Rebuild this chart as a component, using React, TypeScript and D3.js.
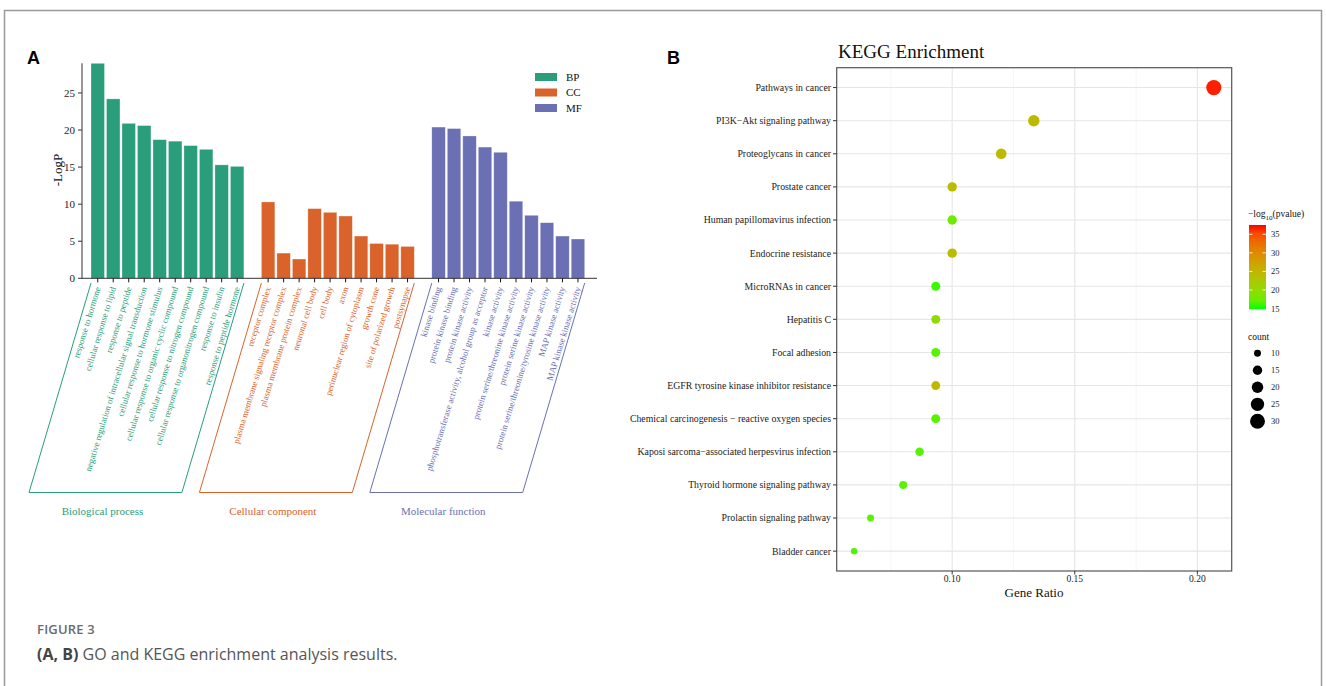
import * as d3 from "d3";

// ---- panel A data (GO) ----
const bpTerms = [
  "response to hormone",
  "cellular response to lipid",
  "response to peptide",
  "negative regulation of intracellular signal transduction",
  "cellular response to hormone stimulus",
  "cellular response to organic cyclic compound",
  "cellular response to nitrogen compound",
  "cellular response to organonitrogen compound",
  "response to insulin",
  "response to peptide hormone",
];
const bpValues = [29.0, 24.2, 20.9, 20.6, 18.7, 18.5, 17.9, 17.4, 15.3, 15.1];

const ccTerms = [
  "receptor complex",
  "plasma membrane signaling receptor complex",
  "plasma membrane protein complex",
  "neuronal cell body",
  "cell body",
  "axon",
  "perinuclear region of cytoplasm",
  "growth cone",
  "site of polarized growth",
  "postsynapse",
];
const ccValues = [10.3, 3.4, 2.6, 9.4, 8.9, 8.4, 5.7, 4.7, 4.6, 4.3];

const mfTerms = [
  "kinase binding",
  "protein kinase binding",
  "protein kinase activity",
  "phosphotransferase activity, alcohol group as acceptor",
  "kinase activity",
  "protein serine/threonine kinase activity",
  "protein serine kinase activity",
  "protein serine/threonine/tyrosine kinase activity",
  "MAP kinase activity",
  "MAP kinase kinase activity",
];
const mfValues = [20.4, 20.2, 19.2, 17.7, 17.0, 10.4, 8.5, 7.5, 5.7, 5.3];

const groupKeys = ["BP", "CC", "MF"];
const groupNames = ["Biological process", "Cellular component", "Molecular function"];
const groupColors = ["#2a9d7a", "#d9632a", "#6a70b3"];
const yTicksA = [0, 5, 10, 15, 20, 25];

// ---- panel B data (KEGG) ----
const pathways = [
  "Pathways in cancer",
  "PI3K\u2212Akt signaling pathway",
  "Proteoglycans in cancer",
  "Prostate cancer",
  "Human papillomavirus infection",
  "Endocrine resistance",
  "MicroRNAs in cancer",
  "Hepatitis C",
  "Focal adhesion",
  "EGFR tyrosine kinase inhibitor resistance",
  "Chemical carcinogenesis \u2212 reactive oxygen species",
  "Kaposi sarcoma\u2212associated herpesvirus infection",
  "Thyroid hormone signaling pathway",
  "Prolactin signaling pathway",
  "Bladder cancer",
];
const geneCounts = [31, 20, 18, 15, 15, 15, 14, 14, 14, 14, 14, 13, 12, 10, 9];
const geneRatio = [0.2067, 0.1333, 0.12, 0.1, 0.1, 0.1, 0.0933, 0.0933, 0.0933, 0.0933, 0.0933, 0.0867, 0.08, 0.0667, 0.06];
const negLogP = [37, 24.5, 24.5, 24, 17.5, 24, 15.5, 20, 16.5, 24.5, 16.5, 16.5, 16.5, 16.5, 16];
const ratioTicks = [0.1, 0.15, 0.2];
const ratioMinor = [0.075, 0.125, 0.175];
const colorTicks = [15, 20, 25, 30, 35];
const sizeTicks = [10, 15, 20, 25, 30];

const serif = "'Liberation Serif', 'Times New Roman', serif";
const sans = "'Open Sans', 'Liberation Sans', sans-serif";

export default function App() {
  // ---------- panel A scales ----------
  const groups = [
    { terms: bpTerms, values: bpValues },
    { terms: ccTerms, values: ccValues },
    { terms: mfTerms, values: mfValues },
  ];
  const slots: { key: string; g: number; term: string; v: number }[] = [];
  groups.forEach((gr, gi) => {
    gr.terms.forEach((t, i) => slots.push({ key: `${gi}-${i}`, g: gi, term: t, v: gr.values[i] }));
  });
  const domainA: string[] = [];
  groups.forEach((gr, gi) => {
    gr.terms.forEach((_, i) => domainA.push(`${gi}-${i}`));
    if (gi < groups.length - 1) domainA.push(`gap${gi}`);
  });
  const xA = d3.scaleBand<string>().domain(domainA).range([91, 584.7]).paddingInner(0.13).paddingOuter(0);
  const yA = d3.scaleLinear().domain([0, 29]).range([278.3, 63.3]);
  const axisY0 = 82;
  const labelTop = 287;
  const angle = -73;
  const slant = 62; // horizontal shift of bracket bottom
  const bracketBottom = 492.5;

  // ---------- panel B scales ----------
  const xB = d3.scaleLinear().domain([0.0529, 0.2140]).range([836.7, 1231.7]);
  const yB = d3.scalePoint<string>().domain(pathways).range([67.7, 571]).padding(0.6);
  const colorB = d3
    .scaleLinear<string>()
    .domain([14.8, 37.5])
    .range(["#00ff00", "#ff0000"])
    .interpolate(d3.interpolateLab);
  const sizeB = d3.scaleSqrt().domain([9, 31]).range([3.2, 7.6]);
  const cbTop = 225;
  const cbBottom = 309.3;
  const cbY = d3.scaleLinear().domain([14.8, 37.5]).range([cbBottom, cbTop]);
  const cbStops = d3.range(0, 1.0001, 0.1);

  return (
    <svg
      width={1326}
      height={686}
      style={{ position: "absolute", left: 0, top: 0, background: "#fff" }}
    >
      <defs>
        <linearGradient id="cb" x1="0" y1="1" x2="0" y2="0">
          {cbStops.map((t) => (
            <stop key={t} offset={t} stopColor={colorB(14.8 + t * (37.5 - 14.8))} />
          ))}
        </linearGradient>
      </defs>
      {/* card border */}
      <rect x={4.5} y={10.5} width={1317} height={700} fill="none" stroke="#9a9a9a" strokeWidth={1.5} />

      {/* ================= Panel A ================= */}
      <text x={27} y={64} fontFamily="'Liberation Sans', Arial, sans-serif" fontWeight="bold" fontSize={18}>A</text>

      {/* bars */}
      {slots.map((s) => (
        <rect
          key={s.key}
          x={xA(s.key)}
          y={yA(s.v)}
          width={xA.bandwidth()}
          height={yA(0) - yA(s.v)}
          fill={groupColors[s.g]}
          stroke="#ffffff"
          strokeOpacity={0.5}
          strokeWidth={0.6}
        />
      ))}

      {/* y axis */}
      <line x1={axisY0} x2={axisY0} y1={yA(29)} y2={yA(0)} stroke="#333" strokeWidth={1} />
      {yTicksA.map((t) => (
        <g key={t}>
          <line x1={axisY0 - 4} x2={axisY0} y1={yA(t)} y2={yA(t)} stroke="#333" />
          <text x={axisY0 - 7} y={yA(t)} dy="0.35em" textAnchor="end" fontFamily={serif} fontSize={11} fill="#222">
            {t}
          </text>
        </g>
      ))}
      <text
        transform={`translate(62,${170}) rotate(-90)`}
        textAnchor="middle"
        fontFamily={serif}
        fontSize={13}
        fill="#111"
      >
        -LogP
      </text>

      {/* x axis */}
      <line x1={axisY0} x2={597} y1={yA(0)} y2={yA(0)} stroke="#333" strokeWidth={1} />
      {slots.map((s) => {
        const cx = (xA(s.key) as number) + xA.bandwidth() / 2;
        return <line key={"t" + s.key} x1={cx} x2={cx} y1={yA(0)} y2={yA(0) + 4} stroke="#111" />;
      })}

      {/* rotated term labels */}
      {slots.map((s) => {
        const cx = (xA(s.key) as number) + xA.bandwidth() / 2;
        return (
          <text
            key={"l" + s.key}
            transform={`translate(${cx},${labelTop}) rotate(${angle})`}
            textAnchor="end"
            dominantBaseline="central"
            fontFamily={serif}
            fontSize={8.9}
            fill={groupColors[s.g]}
          >
            {s.term}
          </text>
        );
      })}

      {/* brackets and group names */}
      {groups.map((gr, gi) => {
        const first = xA(`${gi}-0`) as number;
        const last = (xA(`${gi}-${gr.terms.length - 1}`) as number) + xA.bandwidth();
        const top = 283;
        const pts = [
          [first, top],
          [first - slant, bracketBottom],
          [last - slant, bracketBottom],
          [last, top],
        ];
        const mid = (first + last) / 2 - slant - 3;
        return (
          <g key={"b" + gi}>
            <path
              d={d3.line()(pts as [number, number][]) as string}
              fill="none"
              stroke={groupColors[gi]}
              strokeWidth={1}
            />
            <text x={mid} y={515} textAnchor="middle" fontFamily={serif} fontSize={11} fill={groupColors[gi]}>
              {groupNames[gi]}
            </text>
          </g>
        );
      })}

      {/* legend A */}
      {groupKeys.map((k, i) => (
        <g key={k} transform={`translate(535,${73 + i * 15.5})`}>
          <rect x={0} y={0} width={22} height={8} fill={groupColors[i]} />
          <text x={31} y={4} dy="0.35em" fontFamily={serif} fontSize={11} fill="#111">
            {k}
          </text>
        </g>
      ))}

      {/* ================= Panel B ================= */}
      <text x={667} y={64} fontFamily="'Liberation Sans', Arial, sans-serif" fontWeight="bold" fontSize={18}>B</text>
      <text x={838} y={58} fontFamily={serif} fontSize={19} fill="#111">KEGG Enrichment</text>

      {/* grid */}
      {ratioMinor.map((t) => (
        <line key={"m" + t} x1={xB(t)} x2={xB(t)} y1={67.7} y2={571} stroke="#f0f0f0" strokeWidth={0.6} />
      ))}
      {ratioTicks.map((t) => (
        <line key={"g" + t} x1={xB(t)} x2={xB(t)} y1={67.7} y2={571} stroke="#e6e6e6" strokeWidth={1.1} />
      ))}
      {pathways.map((p) => (
        <line key={"h" + p} x1={836.7} x2={1231.7} y1={yB(p)} y2={yB(p)} stroke="#e6e6e6" strokeWidth={1.1} />
      ))}

      {/* panel border */}
      <rect x={836.7} y={67.7} width={1231.7 - 836.7} height={571 - 67.7} fill="none" stroke="#555" strokeWidth={1.2} />

      {/* y labels */}
      {pathways.map((p) => (
        <g key={"yl" + p}>
          <line x1={833} x2={836.7} y1={yB(p)} y2={yB(p)} stroke="#333" />
          <text x={831} y={yB(p)} dy="0.35em" textAnchor="end" fontFamily={serif} fontSize={9.8} fill="#222">
            {p}
          </text>
        </g>
      ))}

      {/* x ticks */}
      {ratioTicks.map((t) => (
        <g key={"xt" + t}>
          <line x1={xB(t)} x2={xB(t)} y1={571} y2={574.5} stroke="#333" />
          <text x={xB(t)} y={582} textAnchor="middle" fontFamily={serif} fontSize={9.5} fill="#222">
            {t.toFixed(2)}
          </text>
        </g>
      ))}
      <text x={1034} y={597} textAnchor="middle" fontFamily={serif} fontSize={13} fill="#111">
        Gene Ratio
      </text>

      {/* points */}
      {pathways.map((p, i) => (
        <circle key={"pt" + p} cx={xB(geneRatio[i])} cy={yB(p)} r={sizeB(geneCounts[i])} fill={colorB(negLogP[i])} />
      ))}

      {/* colour legend */}
      <text x={1248} y={217} fontFamily={serif} fontSize={9.5} fill="#111">
        {"\u2212log"}
        <tspan fontSize={7} dy={3}>10</tspan>
        <tspan dy={-3}>(pvalue)</tspan>
      </text>
      <rect x={1249} y={cbTop} width={17} height={cbBottom - cbTop} fill="url(#cb)" />
      {colorTicks.map((t) => (
        <g key={"ct" + t}>
          {t > 15 && (
            <>
              <line x1={1249} x2={1252.5} y1={cbY(t)} y2={cbY(t)} stroke="#fff" strokeWidth={0.8} />
              <line x1={1262.5} x2={1266} y1={cbY(t)} y2={cbY(t)} stroke="#fff" strokeWidth={0.8} />
            </>
          )}
          <text x={1271} y={cbY(t)} dy="0.35em" fontFamily={serif} fontSize={8.5} fill="#222">
            {t}
          </text>
        </g>
      ))}

      {/* size legend */}
      <text x={1248} y={340} fontFamily={serif} fontSize={9.5} fill="#111">count</text>
      {sizeTicks.map((t, i) => (
        <g key={"st" + t}>
          <circle cx={1257.5} cy={353.3 + i * 17} r={sizeB(t)} fill="#000" />
          <text x={1271} y={353.3 + i * 17} dy="0.35em" fontFamily={serif} fontSize={8.5} fill="#222">
            {t}
          </text>
        </g>
      ))}

      {/* caption */}
      <text x={37} y={634} fontFamily={sans} fontWeight={600} fontSize={13} fill="#6b6b6b" letterSpacing={0.2}>
        FIGURE 3
      </text>
      <text x={37} y={660} fontFamily={sans} fontSize={16} fill="#555">
        <tspan fontWeight={700} fill="#444">(A, B)</tspan>
        <tspan> GO and KEGG enrichment analysis results.</tspan>
      </text>
    </svg>
  );
}
